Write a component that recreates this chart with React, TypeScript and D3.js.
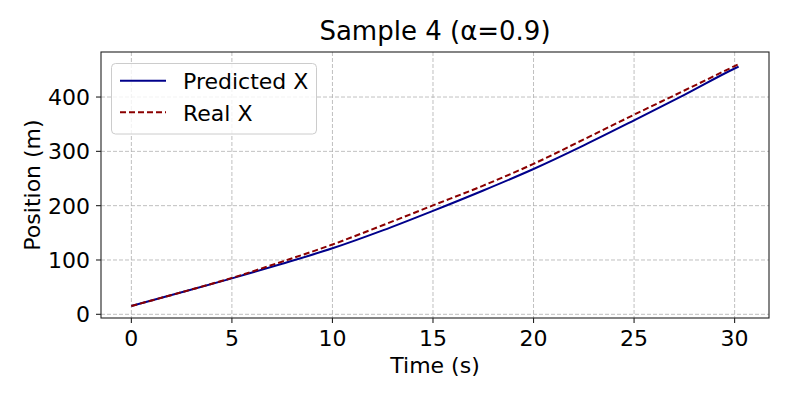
import React from "react";
import * as d3 from "d3";

const times = [0, 2.5, 5, 7.5, 10, 12.5, 15, 17.5, 20, 22.5, 25, 27.5, 30, 30.2];
const predictedX = [15.3, 40.5, 66.2, 93, 121.5, 154.5, 190.5, 228, 267.5, 311, 357, 404, 452.5, 456];
const realX = [15.3, 40.7, 67, 97, 128.5, 164, 200.5, 237, 277, 322, 367.5, 412, 457, 460.6];
const xTicks = [0, 5, 10, 15, 20, 25, 30];
const yTicks = [0, 100, 200, 300, 400];

const W = 793;
const H = 397;
const M = { left: 101, right: 769, top: 52, bottom: 318 };
const FONT = "DejaVu Sans, sans-serif";

export default function App() {
  const x = d3.scaleLinear().domain([-1.51, 31.71]).range([M.left, M.right]);
  const y = d3.scaleLinear().domain([-6.8, 482.9]).range([M.bottom, M.top]);
  const line = d3
    .line<number>()
    .x((_, i) => x(times[i]))
    .y((d) => y(d))
    .curve(d3.curveMonotoneX);
  const cx = (M.left + M.right) / 2;
  const cy = (M.top + M.bottom) / 2;
  return (
    <svg width={W} height={H} style={{ position: "absolute", left: 0, top: 0, background: "#fff" }} fontFamily={FONT}>
      <rect x={0} y={0} width={W} height={H} fill="#fff" />
      <defs>
        <clipPath id="plot">
          <rect x={M.left} y={M.top} width={M.right - M.left} height={M.bottom - M.top} />
        </clipPath>
      </defs>
      {/* grid */}
      <g stroke="#b0b0b0" strokeWidth={1} strokeDasharray="4,2" strokeOpacity={0.8}>
        {xTicks.map((t) => (
          <line key={"gx" + t} x1={x(t)} x2={x(t)} y1={M.top} y2={M.bottom} />
        ))}
        {yTicks.map((t) => (
          <line key={"gy" + t} x1={M.left} x2={M.right} y1={y(t)} y2={y(t)} />
        ))}
      </g>
      {/* lines */}
      <g clipPath="url(#plot)" fill="none">
        <path d={line(predictedX) || ""} stroke="#00008b" strokeWidth={2} />
        <path d={line(realX) || ""} stroke="#8b0000" strokeWidth={2} strokeDasharray="6,3" />
      </g>
      {/* spines */}
      <rect x={M.left} y={M.top} width={M.right - M.left} height={M.bottom - M.top} fill="none" stroke="#222" strokeWidth={1.1} />
      {/* x ticks */}
      <g>
        {xTicks.map((t) => (
          <g key={"xt" + t}>
            <line x1={x(t)} x2={x(t)} y1={M.bottom} y2={M.bottom + 5} stroke="#222" strokeWidth={1.1} />
            <text x={x(t)} y={346} textAnchor="middle" fontSize={22} fill="#000">
              {t}
            </text>
          </g>
        ))}
      </g>
      {/* y ticks */}
      <g>
        {yTicks.map((t) => (
          <g key={"yt" + t}>
            <line x1={M.left - 5} x2={M.left} y1={y(t)} y2={y(t)} stroke="#222" strokeWidth={1.1} />
            <text x={90} y={y(t)} dy="0.36em" textAnchor="end" fontSize={22} fill="#000">
              {t}
            </text>
          </g>
        ))}
      </g>
      <text x={cx} y={373} textAnchor="middle" fontSize={22} fill="#000">
        Time (s)
      </text>
      <text transform={`translate(40,${cy}) rotate(-90)`} textAnchor="middle" fontSize={22} fill="#000">
        Position (m)
      </text>
      <text x={cx} y={40} textAnchor="middle" fontSize={26} fill="#000">
        Sample 4 (α=0.9)
      </text>
      {/* legend */}
      <g>
        <rect x={111.5} y={63.5} width={205} height={70.5} rx={4} fill="#fff" fillOpacity={0.8} stroke="#cccccc" strokeWidth={1} />
        <line x1={120} x2={166} y1={80.7} y2={80.7} stroke="#00008b" strokeWidth={2} />
        <line x1={120} x2={166} y1={112.3} y2={112.3} stroke="#8b0000" strokeWidth={2} strokeDasharray="6,3" />
        <text x={183} y={88.5} fontSize={22} fill="#000">
          Predicted X
        </text>
        <text x={183} y={120.5} fontSize={22} fill="#000">
          Real X
        </text>
      </g>
    </svg>
  );
}
